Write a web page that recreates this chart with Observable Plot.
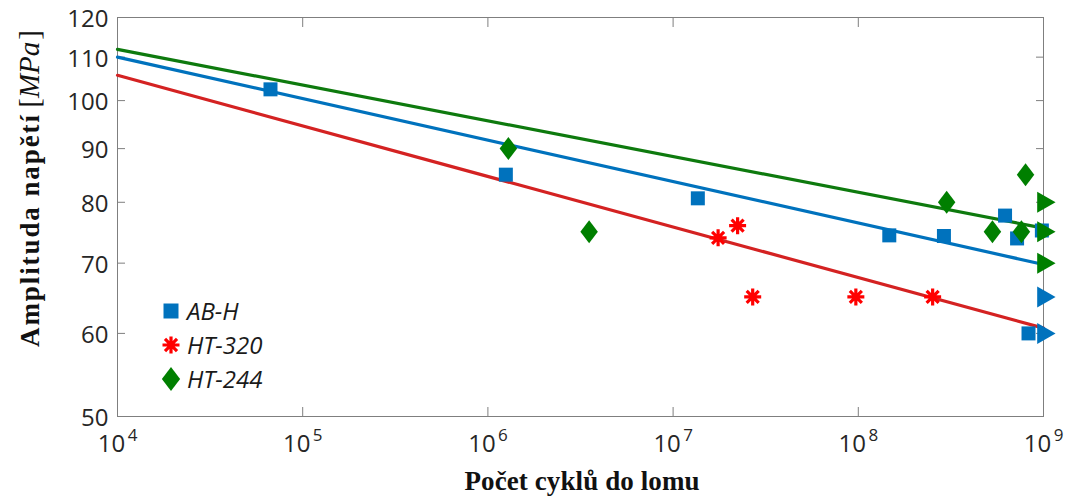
<!DOCTYPE html>
<html>
<head>
<meta charset="utf-8">
<script src="https://cdn.jsdelivr.net/npm/d3@7"></script>
<script src="https://cdn.jsdelivr.net/npm/@observablehq/plot@0.6"></script>
<style>
  html, body { margin: 0; padding: 0; background: #fff; }
</style>
</head>
<body>
<script>
// ---- Data ----
const xTicks = [1e4, 1e5, 1e6, 1e7, 1e8, 1e9];
const xTickBase = ["10", "10", "10", "10", "10", "10"];
const xTickExp = ["4", "5", "6", "7", "8", "9"];
const yTicks = [50, 60, 70, 80, 90, 100, 110, 120];

const seriesNames = ["AB-H", "HT-320", "HT-244"];

// AB-H (blue squares) – failures
const abhN = [6.7e4, 1.25e6, 1.36e7, 1.47e8, 2.9e8, 6.2e8, 7.2e8, 8.3e8, 9.8e8];
const abhS = [102.5, 85, 80.7, 74.4, 74.3, 77.7, 73.9, 60, 75.2];
// AB-H run-outs (blue triangles)
const abhRunN = [1e9, 1e9];
const abhRunS = [65, 60];

// HT-320 (red asterisks)
const ht320N = [1.75e7, 2.23e7, 2.69e7, 9.7e7, 2.52e8];
const ht320S = [74, 76, 65, 65, 65];

// HT-244 (green diamonds)
const ht244N = [1.29e6, 3.52e6, 3.0e8, 5.3e8, 8.0e8, 7.6e8];
const ht244S = [90, 75, 80, 75, 85, 75];
// HT-244 run-outs (green triangles)
const ht244RunN = [1e9, 1e9, 1e9];
const ht244RunS = [80, 75, 70];

// Fitted S-N lines (end points)
const fitN = [1e4, 1e9];
const abhFitS = [110, 69.8];
const ht320FitS = [105.7, 60.7];
const ht244FitS = [111.9, 75.6];

// ---- Styling ----
const blue = "#0072BD";
const redLine = "#D42222";
const redMark = "#FF0000";
const greenLine = "#0E7A0E";
const greenMark = "#007F00";
const axisGray = "#7f7f7f";
const textColor = "#262626";

const zip = (ns, ss) => ns.map((n, i) => ({n, s: ss[i]}));

// custom symbols (size = PI*r*r)
const rad = (size) => Math.sqrt(size / Math.PI);
const symSquare = {draw(ctx, size) { const r = rad(size);
  ctx.moveTo(-r, -r); ctx.lineTo(r, -r); ctx.lineTo(r, r); ctx.lineTo(-r, r); ctx.closePath(); }};
const symDiamond = {draw(ctx, size) { const r = rad(size), w = r * 0.76;
  ctx.moveTo(0, -r); ctx.lineTo(w, 0); ctx.lineTo(0, r); ctx.lineTo(-w, 0); ctx.closePath(); }};
const symTriRight = {draw(ctx, size) { const r = rad(size);
  ctx.moveTo(-0.6 * r, -r); ctx.lineTo(1.15 * r, 0); ctx.lineTo(-0.6 * r, r); ctx.closePath(); }};
const symAst8 = {draw(ctx, size) { const r = rad(size);
  for (let k = 0; k < 4; k++) { const a = k * Math.PI / 4, c = Math.cos(a) * r, s = Math.sin(a) * r;
    ctx.moveTo(-c, -s); ctx.lineTo(c, s); } }};

const chart = Plot.plot({
  width: 1067,
  height: 497,
  marginLeft: 117,
  marginRight: 24,
  marginTop: 17,
  marginBottom: 81,
  x: {type: "log", domain: [1e4, 1e9]},
  y: {type: "log", domain: [50, 120]},
  style: {fontFamily: "'Open Sans', sans-serif", fontSize: "24px", color: textColor, background: "#fff", overflow: "visible"},
  marks: [
    Plot.frame({stroke: axisGray, strokeWidth: 1}),
    // inward ticks
    Plot.axisY(yTicks, {anchor: "left", tickSize: -8, fill: "none", stroke: axisGray, label: null}),
    Plot.axisY(yTicks, {anchor: "right", tickSize: -8, fill: "none", stroke: axisGray, label: null}),
    Plot.axisX(xTicks, {anchor: "bottom", tickSize: -9, fill: "none", stroke: axisGray, label: null}),
    Plot.axisX(xTicks, {anchor: "top", tickSize: -9, fill: "none", stroke: axisGray, label: null}),
    // y tick labels
    Plot.axisY(yTicks, {anchor: "left", tickSize: 0, tickPadding: 9, dy: 2, label: null, fill: textColor, fontSize: 24, tickFormat: d => String(d)}),
    // x tick labels 10^k
    Plot.text(xTicks, {x: d => d, frameAnchor: "bottom", text: (d, i) => xTickBase[i], dy: 35, dx: -6, fontSize: 24, fill: textColor}),
    Plot.text(xTicks, {x: d => d, frameAnchor: "bottom", text: (d, i) => xTickExp[i], dy: 24, dx: 15, fontSize: 17, fill: textColor}),
    // fitted lines
    Plot.line(zip(fitN, ht320FitS), {x: "n", y: "s", stroke: redLine, strokeWidth: 3.2}),
    Plot.line(zip(fitN, abhFitS), {x: "n", y: "s", stroke: blue, strokeWidth: 3.2}),
    Plot.line(zip(fitN, ht244FitS), {x: "n", y: "s", stroke: greenLine, strokeWidth: 3.2}),
    // markers
    Plot.dot(zip(abhN, abhS), {x: "n", y: "s", symbol: symSquare, r: 7, fill: blue, stroke: "none"}),
    Plot.dot(zip(ht320N, ht320S), {x: "n", y: "s", symbol: symAst8, r: 8.5, fill: "none", stroke: redMark, strokeWidth: 3.2}),
    Plot.dot(zip(ht244N, ht244S), {x: "n", y: "s", symbol: symDiamond, r: 11.5, fill: greenMark, stroke: "none"}),
    Plot.dot(zip(abhRunN, abhRunS), {x: "n", y: "s", symbol: symTriRight, r: 10.5, fill: blue, stroke: "none"}),
    Plot.dot(zip(ht244RunN, ht244RunS), {x: "n", y: "s", symbol: symTriRight, r: 10.5, fill: greenMark, stroke: "none"})
  ]
});

document.body.append(chart);

// ---- Axis titles & legend (added to the same SVG) ----
const svg = d3.select(chart);

// y title
svg.append("text")
  .attr("transform", "translate(39,347) rotate(-90)")
  .attr("text-anchor", "start")
  .attr("font-family", "'Liberation Serif', serif")
  .attr("font-weight", "bold")
  .attr("font-size", 27)
  .attr("fill", "#111")
  .attr("textLength", 232)
  .attr("lengthAdjust", "spacing")
  .text("Amplituda napětí");
const yUnit = svg.append("text")
  .attr("transform", "translate(39,30) rotate(-90)")
  .attr("text-anchor", "end")
  .attr("font-family", "'Liberation Serif', serif")
  .attr("font-size", 29)
  .attr("fill", "#111");
yUnit.append("tspan").text("[");
yUnit.append("tspan").attr("font-style", "italic").text("MPa");
yUnit.append("tspan").attr("dx", 2).text("]");

// x title
svg.append("text")
  .attr("x", 582).attr("y", 490)
  .attr("text-anchor", "middle")
  .attr("font-family", "'Liberation Serif', serif")
  .attr("font-weight", "bold")
  .attr("font-size", 27)
  .attr("fill", "#111")
  .attr("textLength", 235)
  .attr("lengthAdjust", "spacing")
  .text("Počet cyklů do lomu");

// legend
const legendSyms = [
  {sym: symSquare, r: 7.5, fill: blue, stroke: "none", sw: 0},
  {sym: symAst8, r: 8.5, fill: "none", stroke: redMark, sw: 3.2},
  {sym: symDiamond, r: 12, fill: greenMark, stroke: "none", sw: 0}
];
const lg = svg.append("g");
seriesNames.forEach((name, i) => {
  const cy = 311 + i * 34;
  const L = legendSyms[i];
  lg.append("path")
    .attr("transform", `translate(171,${cy})`)
    .attr("d", d3.symbol().type(L.sym).size(Math.PI * L.r * L.r)())
    .attr("fill", L.fill).attr("stroke", L.stroke).attr("stroke-width", L.sw);
  lg.append("text")
    .attr("x", 187).attr("y", cy + 9)
    .attr("text-anchor", "start")
    .attr("font-family", "'Open Sans', sans-serif")
    .attr("font-style", "italic")
    .attr("font-size", 24)
    .attr("fill", "#1a1a1a")
    .text(name);
});
</script>
</body>
</html>
